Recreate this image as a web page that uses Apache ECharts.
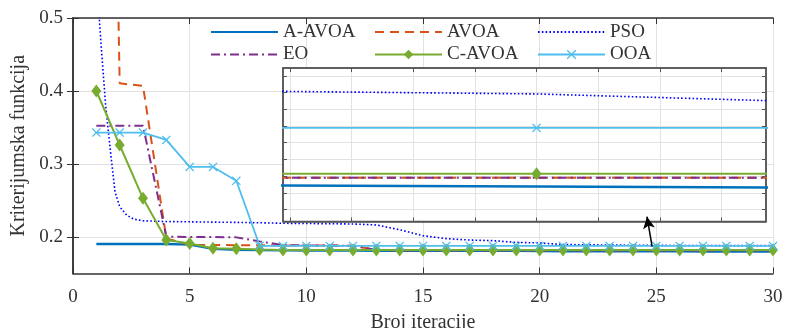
<!DOCTYPE html>
<html><head><meta charset="utf-8">
<script src="https://cdn.jsdelivr.net/npm/echarts@6/dist/echarts.min.js"></script>
<style>html,body{margin:0;padding:0;background:#fff}#c{width:785px;height:328px}</style>
</head><body><div id="c"></div>
<script>
// ---------- data ----------
const iterations = [1,2,3,4,5,6,7,8,9,10,11,12,13,14,15,16,17,18,19,20,21,22,23,24,25,26,27,28,29,30];
const aavoa = [0.1904,0.1904,0.1904,0.1904,0.1896,0.1838,0.1826,0.1820,0.1817,0.1815,0.1814,0.1813,0.1812,0.1812,0.1811,0.1811,0.1811,0.1811,0.18105,0.18075,0.18045,0.1804,0.1804,0.1803,0.1803,0.1803,0.1802,0.1802,0.1802,0.1802];
const avoa = [2.2,0.4105,0.407,0.198,0.1892,0.189,0.1888,0.1886,0.1885,0.1884,0.1882,0.1880,0.1822,0.18179,0.18179,0.18179,0.18179,0.18179,0.18179,0.18179,0.18179,0.18179,0.18179,0.18179,0.18179,0.18179,0.18179,0.18179,0.18179,0.18179];
const psoX = [1,1.2,1.4,1.6,1.8,2,2.3,2.6,3,4,5,6,7,8,9,10,11,12,13,14,15,16,17,18,19,20,21,22,23,24,25,26,27,28,29,30];
const psoY = [0.56,0.465,0.38,0.319,0.262,0.2415,0.230,0.2245,0.2222,0.2212,0.2208,0.2204,0.2200,0.2195,0.2188,0.2185,0.2182,0.2178,0.2165,0.2100,0.2017,0.1978,0.1958,0.1950,0.1926,0.19185,0.1897,0.1893,0.1890,0.1887,0.1885,0.1884,0.1883,0.1882,0.1882,0.1882];
const eo = [0.3525,0.3525,0.3525,0.2005,0.2,0.2,0.1995,0.194,0.1888,0.1885,0.1883,0.1880,0.1822,0.18179,0.18179,0.18179,0.18179,0.18179,0.18179,0.18179,0.18179,0.18179,0.18179,0.18179,0.18179,0.18179,0.18179,0.18179,0.18179,0.18179];
const cavoa = [0.400,0.326,0.253,0.196,0.191,0.1845,0.1840,0.1828,0.18227,0.18227,0.18227,0.18227,0.18227,0.18227,0.18227,0.18227,0.18227,0.18227,0.18227,0.18227,0.18227,0.18227,0.18227,0.18227,0.18227,0.18227,0.18227,0.18227,0.18227,0.18227];
const ooa = [0.343,0.343,0.343,0.333,0.296,0.296,0.277,0.1880,0.18778,0.18778,0.18778,0.18778,0.18778,0.18778,0.18778,0.18778,0.18778,0.18778,0.18778,0.18778,0.18778,0.18778,0.18778,0.18778,0.18778,0.18778,0.18778,0.18778,0.18778,0.18778];
const xTicks = [0,5,10,15,20,25,30];
const yTicks = [0.2,0.3,0.4,0.5];
const insetXTicks = [19.6,19.7,19.8,19.9,20.0,20.1,20.2,20.3];
const insetYTicks = [0.178,0.180,0.182,0.184,0.186,0.188,0.190,0.192,0.194];
const arrowFrom = [24.82, 0.1867];
const arrowTo = [24.6, 0.2279];

// ---------- styling ----------
const FONT = "'Liberation Serif','DejaVu Serif',serif";
const TXT = '#333333';
const AX = '#333333';
const GRIDC = '#e2e2e2';
const xSym = 'path://M1,0 L5,4 L9,0 L10,1 L6,5 L10,9 L9,10 L5,6 L1,10 L0,9 L4,5 L0,1 Z';

const defs = [
  {name:'A-AVOA', xs:iterations, ys:aavoa, color:'#0072BD', type:'solid', width:2.4},
  {name:'AVOA', xs:iterations, ys:avoa, color:'#D95319', type:[9,6], width:2},
  {name:'PSO', xs:psoX, ys:psoY, color:'#0000FF', type:[1.6,2.2], width:1.6},
  {name:'EO', xs:iterations, ys:eo, color:'#7E2F8E', type:[9,4,2,4], width:2},
  {name:'C-AVOA', xs:iterations, ys:cavoa, color:'#77AC30', type:'solid', width:2, symbol:'diamond', symbolSize:[10,13]},
  {name:'OOA', xs:iterations, ys:ooa, color:'#4DBEEE', type:'solid', width:1.8, symbol:xSym, symbolSize:9}
];
function pairs(xs, ys){ return xs.map((x,i)=>[x, ys[i]]); }

const series = [];
defs.forEach(d => {
  const base = {
    type:'line', symbol: d.symbol || 'none', symbolSize: d.symbolSize || 4,
    showSymbol: !!d.symbol, lineStyle:{color:d.color, width:d.width, type:d.type},
    itemStyle:{color:d.color}, emphasis:{disabled:true}, animation:false, clip:true
  };
  series.push(Object.assign({}, base, {name:d.name, data:pairs(d.xs,d.ys), xAxisIndex:0, yAxisIndex:0, z:2}));
  series.push(Object.assign({}, base, {name:d.name+' inset', data:pairs(d.xs,d.ys), xAxisIndex:2, yAxisIndex:2, z:6}));
});
series.push({
  type:'line', name:'arrow', data:[[arrowFrom[0], arrowFrom[1]]], symbol:'none', xAxisIndex:0, yAxisIndex:0, z:10,
  lineStyle:{opacity:0}, animation:false,
  markLine:{silent:true, symbol:['none','arrow'], symbolSize:[9,12], animation:false,
    lineStyle:{color:'#000', width:1.5, type:'solid'}, label:{show:false},
    data:[[{coord:arrowFrom},{coord:arrowTo}]]}
});

const noMark = {color:'rgba(0,0,0,0)', borderColor:'rgba(0,0,0,0)', borderWidth:0};
function legItem(name){
  const d = defs.find(e => e.name === name);
  return d.symbol ? {name:name} : {name:name, itemStyle:noMark};
}
const legendCommon = {
  orient:'vertical', padding:0, itemGap:2.5, itemWidth:67, itemHeight:12, selectedMode:false,
  textStyle:{fontFamily:FONT, fontSize:19, color:TXT, lineHeight:20}
};

const hiddenLabel = {show:false};
const option = {
  backgroundColor:'#fff',
  animation:false,
  grid:[
    {left:73, top:18, width:700, height:255.5, show:false, containLabel:false, outerBoundsMode:'none'},
    {left:283, top:68, width:483, height:153.5, show:true, backgroundColor:'#fff', borderColor:'#555', borderWidth:1.5, z:3, containLabel:false, outerBoundsMode:'none'}
  ],
  legend:[
    Object.assign({}, legendCommon, {data:[legItem('A-AVOA'),legItem('EO')], left:210, top:22}),
    Object.assign({}, legendCommon, {data:[legItem('AVOA'),legItem('C-AVOA')], left:374, top:22}),
    Object.assign({}, legendCommon, {data:[legItem('PSO'),legItem('OOA')], left:537, top:22})
  ],
  xAxis:[
    {type:'value', gridIndex:0, min:0, max:30, interval:5, position:'bottom',
     axisLine:{show:true, lineStyle:{color:AX, width:1.5}},
     axisTick:{show:true, inside:true, length:6, lineStyle:{color:AX}},
     axisLabel:{show:true, margin:14, fontFamily:FONT, fontSize:19, color:TXT},
     splitLine:{show:true, lineStyle:{color:GRIDC, width:1}},
     name:'Broj iteracije', nameLocation:'middle', nameGap:27,
     nameTextStyle:{fontFamily:FONT, fontSize:20, color:TXT, verticalAlign:'top', lineHeight:22}},
    {type:'value', gridIndex:0, min:0, max:30, interval:5, position:'top',
     axisLine:{show:true, lineStyle:{color:AX, width:1.5}},
     axisTick:{show:true, inside:true, length:6, lineStyle:{color:AX}},
     axisLabel:hiddenLabel, splitLine:{show:false}},
    {type:'value', gridIndex:1, min:19.589, max:20.372, position:'bottom', z:4,
     axisLine:{show:true, lineStyle:{color:'#555', width:1.5}},
     axisTick:{show:true, inside:true, length:4, customValues:insetXTicks, lineStyle:{color:'#555'}},
     axisLabel:{show:false, customValues:insetXTicks},
     splitLine:{show:true, lineStyle:{color:GRIDC, width:1}}},
    {type:'value', gridIndex:1, min:19.589, max:20.372, position:'top', z:4,
     axisLine:{show:true, lineStyle:{color:'#555', width:1.5}},
     axisTick:{show:true, inside:true, length:4, customValues:insetXTicks, lineStyle:{color:'#555'}},
     axisLabel:{show:false, customValues:insetXTicks}, splitLine:{show:false}}
  ],
  yAxis:[
    {type:'value', gridIndex:0, min:0.15, max:0.5, position:'left',
     axisLine:{show:true, lineStyle:{color:AX, width:1.5}},
     axisTick:{show:true, inside:true, length:6, customValues:yTicks, lineStyle:{color:AX}},
     axisLabel:{show:true, customValues:yTicks, margin:10, fontFamily:FONT, fontSize:19, color:TXT,
       formatter:v=>v.toFixed(1)},
     splitLine:{show:true, lineStyle:{color:GRIDC, width:1}},
     name:'Kriterijumska funkcija', nameLocation:'middle', nameGap:39,
     nameTextStyle:{fontFamily:FONT, fontSize:20, color:TXT}},
    {type:'value', gridIndex:0, min:0.15, max:0.5, position:'right',
     axisLine:{show:true, lineStyle:{color:AX, width:1.5}},
     axisTick:{show:true, inside:true, length:6, customValues:yTicks, lineStyle:{color:AX}},
     axisLabel:{show:false, customValues:yTicks}, splitLine:{show:false}},
    {type:'value', gridIndex:1, min:0.17656, max:0.19496, position:'left', z:4,
     axisLine:{show:true, lineStyle:{color:'#555', width:1.5}},
     axisTick:{show:true, inside:true, length:4, customValues:insetYTicks, lineStyle:{color:'#555'}},
     axisLabel:{show:false, customValues:insetYTicks},
     splitLine:{show:true, lineStyle:{color:GRIDC, width:1}}},
    {type:'value', gridIndex:1, min:0.17656, max:0.19496, position:'right', z:4,
     axisLine:{show:true, lineStyle:{color:'#555', width:1.5}},
     axisTick:{show:true, inside:true, length:4, customValues:insetYTicks, lineStyle:{color:'#555'}},
     axisLabel:{show:false, customValues:insetYTicks}, splitLine:{show:false}}
  ],
  series: series
};
const chart = echarts.init(document.getElementById('c'), null, {renderer:'canvas'});
chart.setOption(option);
</script></body></html>
